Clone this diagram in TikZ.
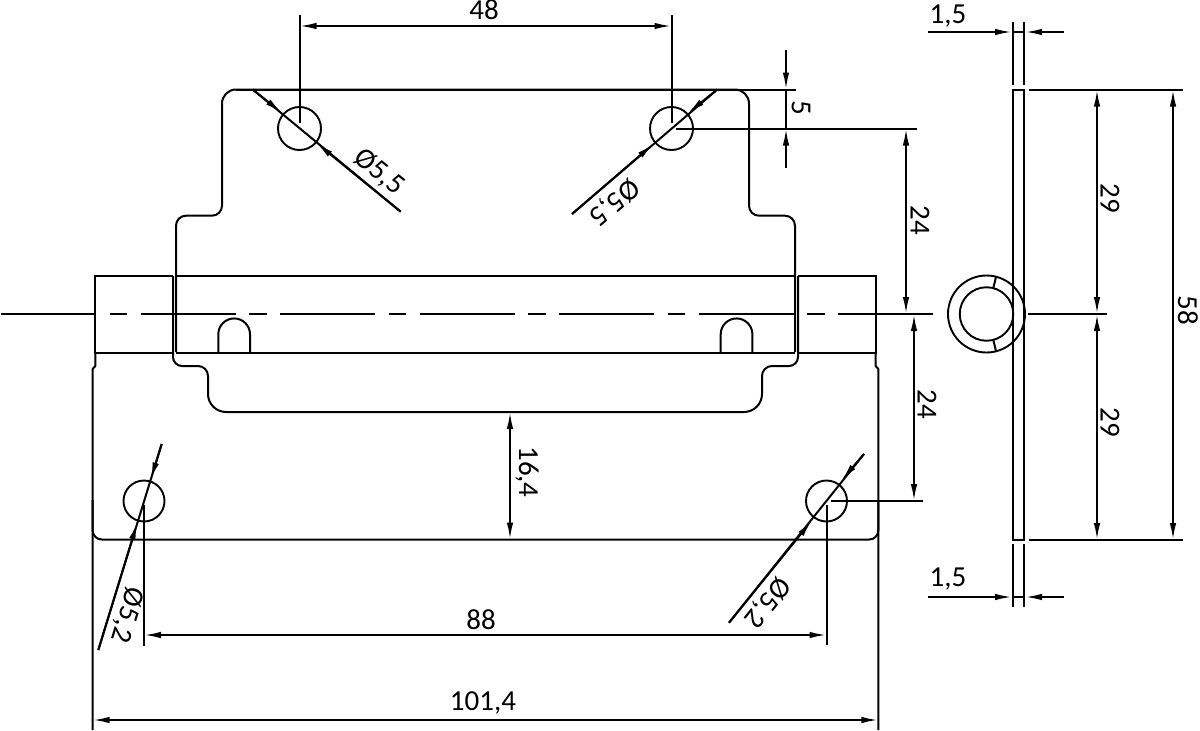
\documentclass[tikz,border=0pt]{standalone}
\usepackage{fontspec}
\setmainfont{Carlito}
\usetikzlibrary{arrows.meta}
\tikzset{
  part/.style={line width=2pt},
  hole/.style={draw,circle,line width=1.9pt},
  dim_tip/.style={line width=2pt,-{Latex[length=17pt,width=6.5pt]}},
  dim_both/.style={line width=2pt,{Latex[length=17pt,width=6.5pt]}-{Latex[length=17pt,width=6.5pt]}},
  dim_text/.style={font=\fontsize{29}{29}\selectfont}
}

\begin{document}
\begin{tikzpicture}[inner sep=0pt,outer sep=0pt,x=1pt,y=-1pt]
  \useasboundingbox (0,0) rectangle (1200,731);
  %
  % holes
  \node[hole,minimum size=43pt] (hole_tl) at (299.5,128.5) {};
  \node[hole,minimum size=43pt] (hole_tr) at (671.5,128.5) {};
  \node[hole,minimum size=41pt] (hole_bl) at (144,501) {};
  \node[hole,minimum size=41pt] (hole_br) at (826.5,501) {};
  \node[hole,minimum size=77pt] (pin_outer) at (986.5,314) {};
  \node[hole,minimum size=53.5pt] (pin_inner) at (986.5,314) {};
  %
  % upper leaf
  \draw[part] (176,352) [rounded corners=10pt] -- (176,215.7) -- (222,215.7) [rounded corners=14pt] -- (222,89.5) -- (749,89.5) [rounded corners=10pt] -- (749,215.7) -- (795,215.7) [sharp corners] -- (795,352);
  \draw[part] (236,89.5) -- (796,89.5);
  %
  % pin and knuckles
  \draw[part] (176,276) -- (795,276);
  \draw[part] (176,352.5) -- (795,352.5);
  \draw[part] (173,352.5) -- (95.3,352.5) -- (95.3,276) -- (173,276);
  \draw[part] (798,352.5) -- (875.7,352.5) -- (875.7,276) -- (798,276);
  \draw[part] (218.3,352.5) -- (218.3,334.3) arc[start angle=180,end angle=0,radius=15.85pt] -- (250,352.5);
  \draw[part] (720.7,352.5) -- (720.7,334.3) arc[start angle=180,end angle=0,radius=15.85pt] -- (752.4,352.5);
  %
  % lower tab
  \draw[part] (173,276) [rounded corners=9pt] -- (173,366) [rounded corners=10pt] -- (208,366) [rounded corners=18pt] -- (208,412) -- (762,412) [rounded corners=10pt] -- (762,366) [rounded corners=9pt] -- (798,366) [sharp corners] -- (798,276);
  %
  % lower leaf
  \draw[part] (95.3,352.5) -- (95.3,366) -- (92.7,369) -- (92.7,730);
  \draw[part] (875.7,352.5) -- (875.7,366) -- (878.3,369) -- (878.3,730);
  \draw[part,rounded corners=9pt] (92.7,500) -- (92.7,539.5) -- (878.3,539.5) -- (878.3,500);
  %
  % side view
  \draw[part] (1012.7,89.5) rectangle (1024.3,540);
  \draw[part] (1012.7,22) -- (1012.7,85);
  \draw[part] (1024.3,22) -- (1024.3,85);
  \draw[part] (1012.7,544) -- (1012.7,607);
  \draw[part] (1024.3,544) -- (1024.3,607);
  \draw[part] (993.3,288) -- (996,277);
  \draw[part] (993.3,340) -- (996,351);
  %
  % centre line
  \draw[part,dash pattern=on 95pt off 13.5pt on 17.5pt off 13.5pt] (1.2,314) -- (933,314);
  \draw[part] (1028.3,314) -- (1107,314);
  %
  % 48
  \draw[part] (hole_tl.center |- 0,15) -- (hole_tl.center |- 0,123);
  \draw[part] (hole_tr.center |- 0,15) -- (hole_tr.center |- 0,123);
  \draw[dim_both] (hole_tl.center |- 0,26) -- (hole_tr.center |- 0,26);
  \node[dim_text] (label_48) at (484,10) {48};
  %
  % 5
  \draw[part] (676,128.5) -- (917,128.5);
  \draw[part] (786,89.5) -- (786,128.5);
  \draw[dim_tip] (786,50) -- (786,89.5);
  \draw[dim_tip] (786,168) -- (786,128.5);
  \node[dim_text,rotate=-90] (label_5) at (801,108) {5};
  %
  % 24 upper and lower
  \draw[dim_both] (906,128.5) -- (906,314);
  \node[dim_text,rotate=-90] (label_24a) at (920,220) {24};
  \draw[part] (831,501) -- (923,501);
  \draw[dim_both] (914,314) -- (914,501);
  \node[dim_text,rotate=-90] (label_24b) at (927,404) {24};
  %
  % hole leaders
  \coordinate (lead_tl_a) at (252.7,89.5);
  \coordinate (lead_tl_b) at (400.7,211.7);
  \coordinate (lead_tl_c) at (281.7,112.7);
  \coordinate (lead_tl_d) at (316.7,143.3);
  \draw[part] (lead_tl_a) -- (lead_tl_b);
  \draw[dim_tip] (lead_tl_a) -- (lead_tl_c);
  \draw[dim_tip] (lead_tl_b) -- (lead_tl_d);
  \node[dim_text,rotate=-39.5] (label_d55a) at (379,172) {Ø5,5};
  %
  \coordinate (lead_tr_a) at (717.3,89.5);
  \coordinate (lead_tr_b) at (572,214);
  \coordinate (lead_tr_c) at (688,113);
  \coordinate (lead_tr_d) at (653.3,144);
  \draw[part] (lead_tr_a) -- (lead_tr_b);
  \draw[dim_tip] (lead_tr_a) -- (lead_tr_c);
  \draw[dim_tip] (lead_tr_b) -- (lead_tr_d);
  \node[dim_text,rotate=220.6] (label_d55b) at (614,202) {Ø5,5};
  %
  \coordinate (lead_bl_a) at (161.7,444);
  \coordinate (lead_bl_b) at (98.3,650);
  \coordinate (lead_bl_c) at (150.7,479.3);
  \coordinate (lead_bl_d) at (137.3,522.7);
  \draw[part] (lead_bl_a) -- (lead_bl_b);
  \draw[dim_tip] (lead_bl_a) -- (lead_bl_c);
  \draw[dim_tip] (lead_bl_b) -- (lead_bl_d);
  \node[dim_text,rotate=252.9] (label_d52a) at (127,615) {Ø5,2};
  %
  \coordinate (lead_br_a) at (864,454);
  \coordinate (lead_br_b) at (729,622.7);
  \coordinate (lead_br_c) at (841.7,480);
  \coordinate (lead_br_d) at (811.7,520.7);
  \draw[part] (lead_br_a) -- (lead_br_b);
  \draw[dim_tip] (lead_br_a) -- (lead_br_c);
  \draw[dim_tip] (lead_br_b) -- (lead_br_d);
  \node[dim_text,rotate=231.3] (label_d52b) at (767,602) {Ø5,2};
  %
  % 88
  \draw[part] (hole_bl.center |- 0,505) -- (hole_bl.center |- 0,646);
  \draw[part] (hole_br.center |- 0,505) -- (hole_br.center |- 0,645);
  \draw[dim_both] (hole_bl.center |- 0,635) -- (hole_br.center |- 0,635);
  \node[dim_text] (label_88) at (481,620) {88};
  %
  % 16,4 and 101,4
  \draw[dim_both] (510,412) -- (510,539.5);
  \node[dim_text,rotate=-90] (label_164) at (527,472) {16,4};
  \draw[dim_both] (92.7,720) -- (878.3,720);
  \node[dim_text] (label_1014) at (483,703) {101,4};
  %
  % 1,5
  \draw[part] (1012.7,32) -- (1024.3,32);
  \draw[dim_tip] (928,32) -- (1012,32);
  \draw[dim_tip] (1064,32) -- (1025,32);
  \node[dim_text] (label_15a) at (948,16) {1,5};
  \draw[part] (1012.7,597) -- (1024.3,597);
  \draw[dim_tip] (928,597) -- (1012,597);
  \draw[dim_tip] (1064,597) -- (1025,597);
  \node[dim_text] (label_15b) at (948,579) {1,5};
  %
  % 29, 29 and 58
  \draw[part] (1029,89.5) -- (1183,89.5);
  \draw[part] (1029,540) -- (1183,540);
  \draw[dim_both] (1097,89.5) -- (1097,314);
  \draw[dim_both] (1097,314) -- (1097,540);
  \node[dim_text,rotate=-90] (label_29a) at (1110,198) {29};
  \node[dim_text,rotate=-90] (label_29b) at (1110,422) {29};
  \draw[dim_both] (1173,89.5) -- (1173,540);
  \node[dim_text,rotate=-90] (label_58) at (1188,310) {58};
\end{tikzpicture}
\end{document}
